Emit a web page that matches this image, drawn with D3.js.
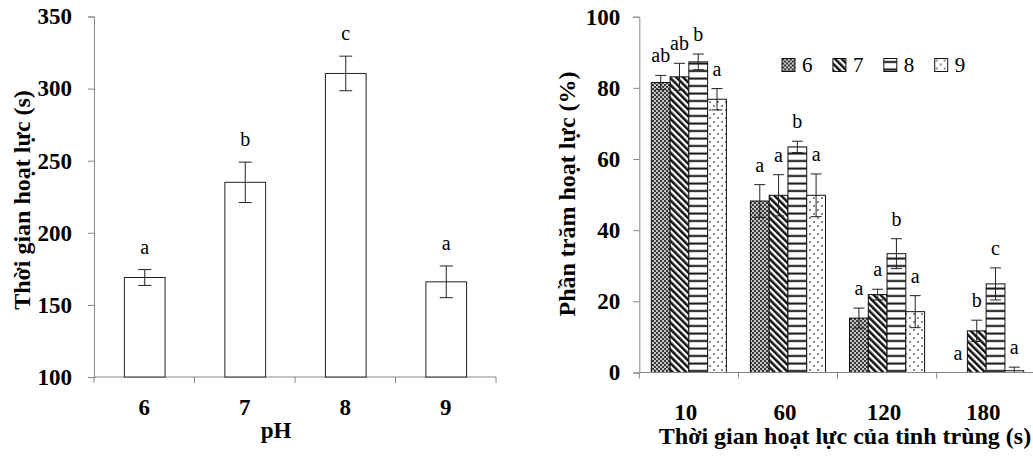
<!DOCTYPE html>
<html>
<head>
<meta charset="utf-8">
<script src="https://cdn.jsdelivr.net/npm/d3@7"></script>
<style>
  html, body { margin: 0; padding: 0; background: #fff; }
  svg { display: block; }
  svg text { font-family: 'Liberation Serif', 'Times New Roman', serif !important; fill: #000; }
</style>
</head>
<body>
<script>
// ---------- DATA ----------
// Left chart: motility duration by pH
const phCats = ["6", "7", "8", "9"];
const durationMean = [169, 235, 310.5, 166];
const durationErr = [5.5, 14, 12, 11];
const durationLetters = ["a", "b", "c", "a"];
const durationTicks = [100, 150, 200, 250, 300, 350];

// Right chart: % motile over time, by pH series
const timeCats = ["10", "60", "120", "180"];
const seriesNames = ["6", "7", "8", "9"];
const pct6 = [81.5, 48.2, 15.3, 0];
const pct7 = [83.1, 49.8, 21.9, 11.7];
const pct8 = [87.3, 63.4, 33.4, 24.9];
const pct9 = [76.8, 49.8, 17.1, 0.5];
const err6 = [2, 4.6, 2.8, 0];
const err7 = [3.8, 5.8, 1.5, 3];
const err8 = [2.2, 1.6, 4.2, 4.5];
const err9 = [3, 6, 4.5, 1];
const let6 = ["ab", "a", "a", "a"];
const let7 = ["ab", "a", "a", "b"];
const let8 = ["b", "b", "b", "c"];
const let9 = ["a", "a", "a", "a"];
const pctTicks = [0, 20, 40, 60, 80, 100];

const leftYTitle = "Thời gian hoạt lực (s)";
const leftXTitle = "pH";
const rightYTitle = "Phần trăm hoạt lực (%)";
const rightXTitle = "Thời gian hoạt lực của tinh trùng (s)";

// ---------- SETUP ----------
const FONT = "'Liberation Serif', 'Times New Roman', serif";
const W = 1033, H = 462;
const svg = d3.select("body").append("svg").attr("width", W).attr("height", H)
  .attr("font-family", FONT);
const axisColor = "#878787";
const defs = svg.append("defs");

// Patterns
const p6 = defs.append("pattern").attr("id", "pat6").attr("patternUnits", "userSpaceOnUse")
  .attr("width", 4).attr("height", 4);
p6.append("rect").attr("width", 4).attr("height", 4).attr("fill", "#c4c4c4");
p6.append("rect").attr("x", 0).attr("y", 0).attr("width", 2).attr("height", 2).attr("fill", "#3a3a3a");
p6.append("rect").attr("x", 2).attr("y", 2).attr("width", 2).attr("height", 2).attr("fill", "#3a3a3a");

const p7 = defs.append("pattern").attr("id", "pat7").attr("patternUnits", "userSpaceOnUse")
  .attr("width", 4.8).attr("height", 10).attr("patternTransform", "rotate(-45)");
p7.append("rect").attr("width", 4.8).attr("height", 10).attr("fill", "#fff");
p7.append("rect").attr("x", 0).attr("width", 2.5).attr("height", 10).attr("fill", "#111");

const p8 = defs.append("pattern").attr("id", "pat8").attr("patternUnits", "userSpaceOnUse")
  .attr("width", 10).attr("height", 7.5);
p8.append("rect").attr("width", 10).attr("height", 7.5).attr("fill", "#fff");
p8.append("rect").attr("y", 2.5).attr("width", 10).attr("height", 2).attr("fill", "#111");

const p9 = defs.append("pattern").attr("id", "pat9").attr("patternUnits", "userSpaceOnUse")
  .attr("width", 8).attr("height", 8);
p9.append("rect").attr("width", 8).attr("height", 8).attr("fill", "#fff");
p9.append("rect").attr("x", 1).attr("y", 1).attr("width", 2).attr("height", 2).attr("fill", "#8a8a8a");
p9.append("rect").attr("x", 5).attr("y", 5).attr("width", 2).attr("height", 2).attr("fill", "#8a8a8a");

const patFill = ["url(#pat6)", "url(#pat7)", "url(#pat8)", "url(#pat9)"];

// ---------- LEFT CHART ----------
const yL = d3.scaleLinear().domain([100, 350]).range([377, 16.5]);
const xL = d3.scaleBand().domain(phCats).range([94, 496]).padding(0);
const gL = svg.append("g");

// y axis
const yAxisL = d3.axisLeft(yL).tickValues(durationTicks).tickSize(6).tickPadding(16);
const gyL = gL.append("g").attr("transform", "translate(94,0)").call(yAxisL).attr("font-family", FONT);
gyL.select(".domain").attr("stroke", axisColor);
gyL.selectAll(".tick line").attr("stroke", axisColor);
gyL.selectAll(".tick text").attr("font-size", 23).attr("font-weight", "bold").attr("fill", "#000");

// x axis: line with boundary ticks
gL.append("line").attr("x1", xL.range()[0]).attr("x2", xL.range()[1])
  .attr("y1", yL(100)).attr("y2", yL(100)).attr("stroke", axisColor);
const boundL = phCats.map(c => xL(c)).concat([xL.range()[1]]);
gL.selectAll(".btick").data(boundL).enter().append("line")
  .attr("x1", d => d).attr("x2", d => d).attr("y1", yL(100)).attr("y2", yL(100) + 6)
  .attr("stroke", axisColor);
gL.selectAll(".xlab").data(phCats).enter().append("text")
  .attr("x", d => xL(d) + xL.bandwidth() / 2).attr("y", 415)
  .attr("text-anchor", "middle").attr("font-size", 23).attr("font-weight", "bold").text(d => d);

// bars
const barWL = xL.bandwidth() * 0.405;
const leftData = phCats.map((c, i) => ({ c, v: durationMean[i], e: durationErr[i], l: durationLetters[i] }));
gL.selectAll(".bar").data(leftData).enter().append("rect")
  .attr("x", d => xL(d.c) + xL.bandwidth() / 2 - barWL / 2 + 0.5)
  .attr("y", d => yL(d.v))
  .attr("width", barWL).attr("height", d => yL(100) - yL(d.v))
  .attr("fill", "#fff").attr("stroke", "#222").attr("stroke-width", 1);
// error bars
const capL = 13;
leftData.forEach(d => {
  const cx = xL(d.c) + xL.bandwidth() / 2 + 0.5;
  gL.append("line").attr("x1", cx).attr("x2", cx).attr("y1", yL(d.v + d.e)).attr("y2", yL(d.v - d.e)).attr("stroke", "#222");
  [d.v + d.e, d.v - d.e].forEach(v => gL.append("line").attr("x1", cx - capL / 2).attr("x2", cx + capL / 2)
    .attr("y1", yL(v)).attr("y2", yL(v)).attr("stroke", "#222"));
  gL.append("text").attr("x", cx).attr("y", yL(d.v + d.e) - 16).attr("text-anchor", "middle")
    .attr("font-size", 20).text(d.l);
});
// titles
gL.append("text").attr("transform", "translate(30,200) rotate(-90)").attr("text-anchor", "middle")
  .attr("font-size", 24).attr("font-weight", "bold").text(leftYTitle);
gL.append("text").attr("x", 276).attr("y", 438).attr("text-anchor", "middle")
  .attr("font-size", 23).attr("font-weight", "bold").text(leftXTitle);

// ---------- RIGHT CHART ----------
const yR = d3.scaleLinear().domain([0, 100]).range([372.5, 16.7]);
const xR = d3.scaleBand().domain(timeCats).range([639.3, 1035.7]).padding(0);
const xS = d3.scaleBand().domain(seriesNames).range([0, xR.bandwidth()]).paddingInner(0).paddingOuter(0.64);
const gR = svg.append("g");

const yAxisR = d3.axisLeft(yR).tickValues(pctTicks).tickSize(6).tickPadding(13);
const gyR = gR.append("g").attr("transform", "translate(639.3,0)").call(yAxisR).attr("font-family", FONT);
gyR.select(".domain").attr("stroke", axisColor);
gyR.selectAll(".tick line").attr("stroke", axisColor);
gyR.selectAll(".tick text").attr("font-size", 23).attr("font-weight", "bold").attr("fill", "#000");

const values = [pct6, pct7, pct8, pct9];
const errs = [err6, err7, err8, err9];
const lets = [let6, let7, let8, let9];
const rightData = [];
seriesNames.forEach((s, si) => timeCats.forEach((t, ti) => {
  rightData.push({ s, si, t, v: values[si][ti], e: errs[si][ti], l: lets[si][ti] });
}));

gR.selectAll(".rbar").data(rightData).enter().append("rect")
  .attr("x", d => xR(d.t) + xS(d.s))
  .attr("y", d => yR(d.v))
  .attr("width", xS.bandwidth())
  .attr("height", d => Math.max(yR(0) - yR(d.v), 0))
  .attr("fill", d => patFill[d.si]).attr("stroke", "#111").attr("stroke-width", 1);

const capR = 11;
rightData.forEach(d => {
  const cx = xR(d.t) + xS(d.s) + xS.bandwidth() / 2;
  if (d.e > 0) {
    gR.append("line").attr("x1", cx).attr("x2", cx).attr("y1", yR(d.v + d.e)).attr("y2", yR(Math.max(d.v - d.e, 0))).attr("stroke", "#222");
    [d.v + d.e, d.v - d.e].filter(v => v >= 0).forEach(v => gR.append("line").attr("x1", cx - capR / 2).attr("x2", cx + capR / 2)
      .attr("y1", yR(v)).attr("y2", yR(v)).attr("stroke", "#222"));
  }
  gR.append("text").attr("x", cx).attr("y", yR(d.v + d.e) - 13).attr("text-anchor", "middle")
    .attr("font-size", 20).text(d.l);
});

// x axis line (drawn after bars)
gR.append("line").attr("x1", xR.range()[0]).attr("x2", xR.range()[1])
  .attr("y1", yR(0)).attr("y2", yR(0)).attr("stroke", axisColor);
const boundR = timeCats.map(c => xR(c));
gR.selectAll(".rbtick").data(boundR).enter().append("line")
  .attr("x1", d => d).attr("x2", d => d).attr("y1", yR(0)).attr("y2", yR(0) + 6)
  .attr("stroke", axisColor);
gR.selectAll(".rxlab").data(timeCats).enter().append("text")
  .attr("x", d => xR(d) + xR.bandwidth() / 2 - 3).attr("y", 420)
  .attr("text-anchor", "middle").attr("font-size", 23).attr("font-weight", "bold").text(d => d);

// legend
const lg = gR.append("g").attr("transform", "translate(782,58.5)");
seriesNames.forEach((s, i) => {
  const g = lg.append("g").attr("transform", `translate(${i * 50.9},0)`);
  g.append("rect").attr("width", 13).attr("height", 13).attr("fill", patFill[i]).attr("stroke", "#111");
  g.append("text").attr("x", 20).attr("y", 13.5).attr("font-size", 21).text(s);
});

// titles
gR.append("text").attr("transform", "translate(575,194) rotate(-90)").attr("text-anchor", "middle")
  .attr("font-size", 24).attr("font-weight", "bold").text(rightYTitle);
gR.append("text").attr("x", 845).attr("y", 444).attr("text-anchor", "middle")
  .attr("font-size", 24).attr("font-weight", "bold").text(rightXTitle);
</script>
</body>
</html>
